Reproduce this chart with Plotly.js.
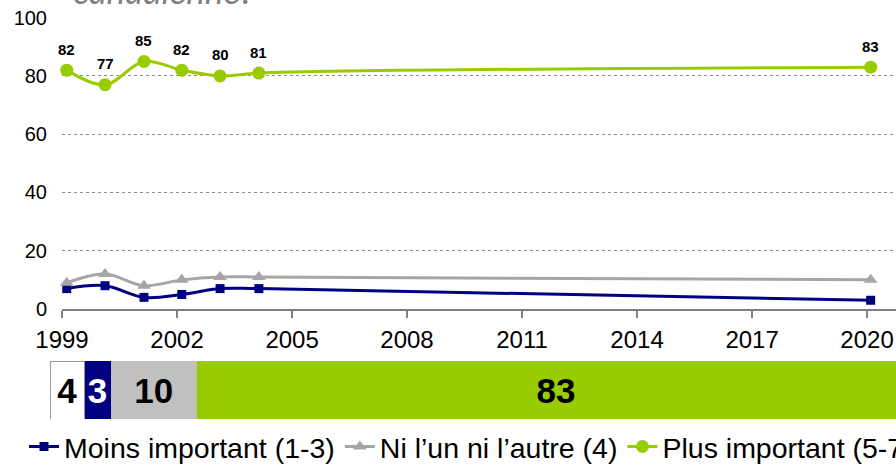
<!DOCTYPE html>
<html>
<head>
<meta charset="utf-8">
<script src="https://cdn.plot.ly/plotly-3.0.1.min.js"></script>
<style>
html, body { margin:0; padding:0; overflow:hidden; background:#fff; }
#chart { width:1000px; height:466px; }
</style>
</head>
<body>
<div id="chart"></div>
<script>
// ---- data ----
const surveyDates = ['1999-02-15','2000-02-15','2001-02-20','2002-02-15','2003-02-15','2004-02-20','2020-02-05'];
const moinsImportant = [7, 8, 4, 5, 7, 7, 3];
const niLunNiLautre = [9, 12, 8, 10, 11, 11, 10];
const plusImportant = [82, 77, 85, 82, 80, 81, 83];
const seriesNames = ['Moins important (1-3)', 'Ni l\u2019un ni l\u2019autre (4)', 'Plus important (5-7)'];
const barLabels = ['NSP', 'Moins important (1-3)', 'Ni l\u2019un ni l\u2019autre (4)', 'Plus important (5-7)'];
const barValues = [4, 3, 10, 83];
const titleText = 'canadienne?';

const W = 1000, H = 466;
const navy = '#000080', gray = '#a6a6a6', green = '#99cc00';
const baseFont = 'Liberation Sans, Arial, sans-serif';

const lineTrace = (y, name, color, symbol, size) => ({
  type:'scatter', mode:'lines+markers', x: surveyDates, y: y, name: name,
  line:{color: color, width: 3, shape:'spline', smoothing: 1},
  marker:{color: color, symbol: symbol, size: size},
  xaxis:'x', yaxis:'y', cliponaxis:false
});

const traces = [
  lineTrace(moinsImportant, seriesNames[0], navy, 'square', 9),
  lineTrace(niLunNiLautre, seriesNames[1], gray, 'triangle-up', 12),
  lineTrace(plusImportant, seriesNames[2], green, 'circle', 13)
];

const barColors = ['#ffffff', navy, '#c0c0c0', green];
const barTextColors = ['#000', '#fff', '#000', '#000'];
barValues.forEach((v, i) => {
  traces.push({
    type:'bar', orientation:'h', x:[v], y:[0], name: barLabels[i], showlegend:false,
    xaxis:'x2', yaxis:'y2', width: 1,
    marker:{color: barColors[i], line:{color: i === 0 ? '#999' : barColors[i], width: i === 0 ? 1 : 0}},
    text:[String(v)], textposition:'inside', insidetextanchor:'middle', constraintext:'none',
    textfont:{family: baseFont, size:35, color: barTextColors[i], weight:'bold'},
    hoverinfo:'skip'
  });
});

const valueLabels = plusImportant.map((v, i) => ({
  text: String(v), x: surveyDates[i], y: v, xref:'x', yref:'y',
  yshift: 21, showarrow:false, xanchor:'center', yanchor:'middle',
  font:{family: baseFont, size:15, color:'#000', weight:'bold'}
}));

const layout = {
  width:W, height:H,
  margin:{l:0, r:0, t:0, b:0, autoexpand:false},
  paper_bgcolor:'#fff', plot_bgcolor:'rgba(0,0,0,0)',
  barmode:'stack', bargap:0,
  showlegend:true,
  font:{family: baseFont, color:'#000'},
  xaxis:{
    type:'date', domain:[62/W, 1], range:['1999-01-01','2023-06-21'],
    tick0:'1999-01-01', dtick:'M36', tickformat:'%Y',
    ticks:'outside', ticklen:7, tickcolor:'#808080', tickwidth:1.5,
    showline:true, linecolor:'#808080', linewidth:1.5, showgrid:false, zeroline:false,
    ticklabelstandoff:2,
    tickfont:{family: baseFont, size:24, color:'#000'}, anchor:'y'
  },
  yaxis:{
    domain:[(H-309)/H, (H-17.7)/H], range:[0,100], dtick:20,
    showgrid:true, gridcolor:'#8c8c8c', griddash:'dot', gridwidth:1, zeroline:false,
    showline:false, ticks:'', ticklabelstandoff:14,
    tickfont:{family: baseFont, size:20, color:'#000'}, anchor:'x'
  },
  xaxis2:{domain:[50/W, 915/W], range:[0,100], visible:false, anchor:'y2', fixedrange:true},
  yaxis2:{domain:[(H-419)/H, (H-361)/H], range:[-0.5,0.5], visible:false, anchor:'x2', fixedrange:true},
  legend:{
    orientation:'h', traceorder:'normal', x:24/W, xanchor:'left', y:(H-447)/H, yanchor:'middle',
    font:{family: baseFont, size:28.5, color:'#000'}, bgcolor:'rgba(0,0,0,0)', itemwidth:30
  },
  annotations:[{
    text: titleText, xref:'paper', yref:'paper', x:163/W, y:1.021,
    xanchor:'center', yanchor:'middle', showarrow:false,
    font:{family:'Lato, "Open Sans", sans-serif', size:35, color:'#808080', style:'italic'}
  }].concat(valueLabels)
};

Plotly.newPlot('chart', traces, layout, {displayModeBar:false, staticPlot:true});
</script>
</body>
</html>
